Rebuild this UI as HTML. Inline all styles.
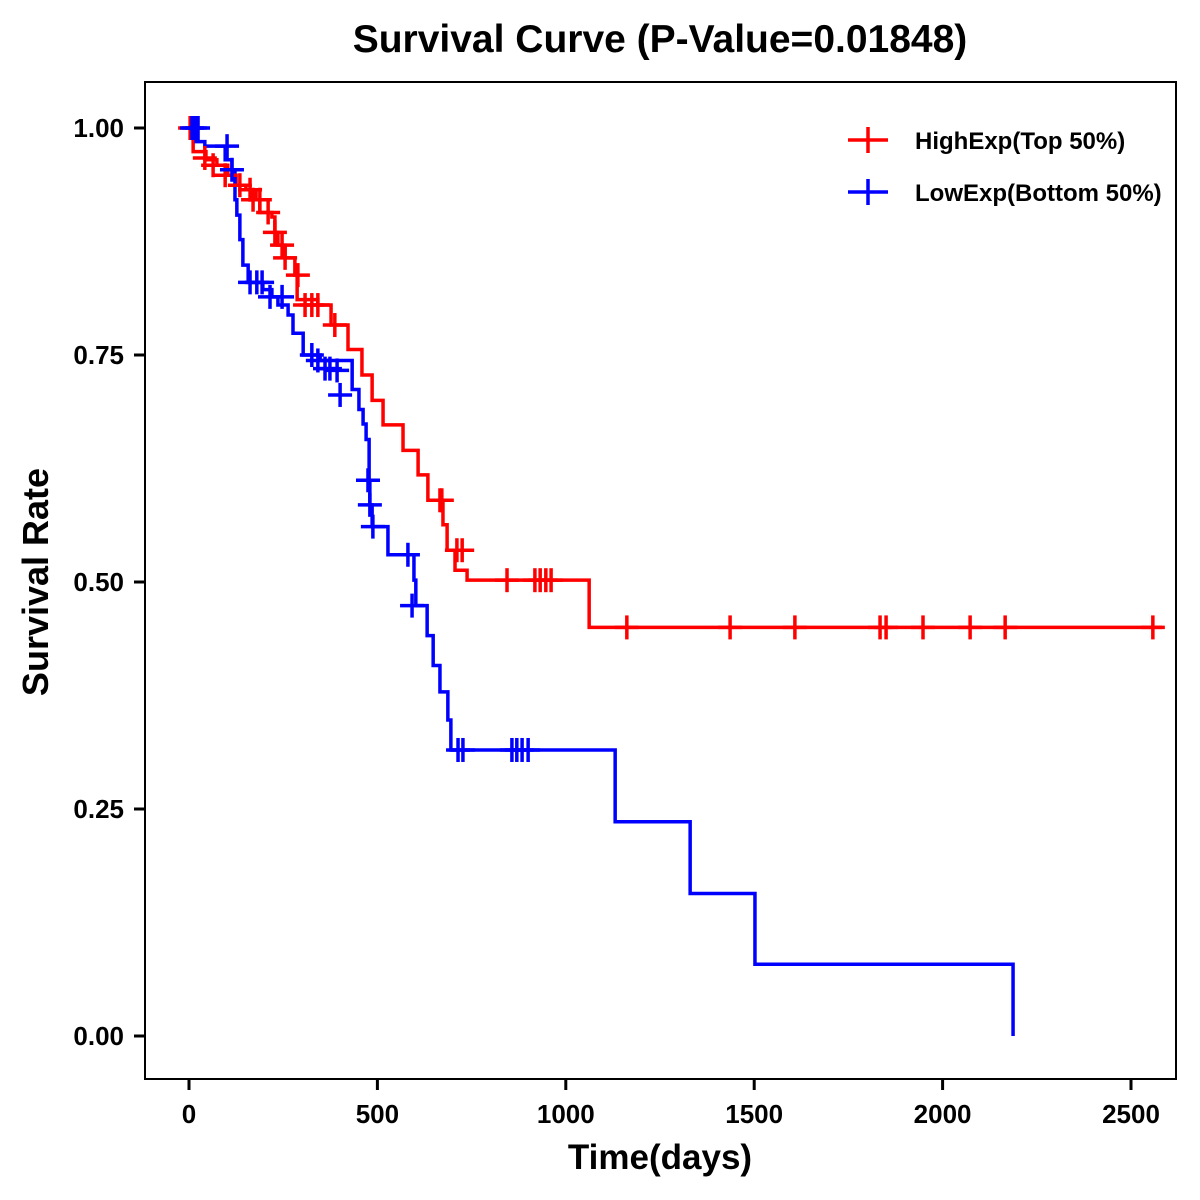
<!DOCTYPE html>
<html><head><meta charset="utf-8"><style>
html,body{margin:0;padding:0;background:#fff;}
svg{display:block;font-family:"Liberation Sans",Arial,sans-serif;}
</style></head><body>
<svg id="chart" width="1200" height="1200" viewBox="0 0 1200 1200">
<rect x="0" y="0" width="1200" height="1200" fill="#fff"/>
<text x="660" y="52" text-anchor="middle" font-size="39" font-weight="bold">Survival Curve (P-Value=0.01848)</text>
<rect x="145" y="82" width="1031" height="997" fill="none" stroke="#000" stroke-width="2"/>
<g id="axes"></g>
<g id="series"></g>
<text x="660" y="1169" text-anchor="middle" font-size="35" font-weight="bold">Time(days)</text>
<text transform="translate(48,582) rotate(-90)" text-anchor="middle" font-size="36" font-weight="bold">Survival Rate</text>
<g>
<g>
<line x1="848" y1="140" x2="888" y2="140" stroke="#f00" stroke-width="3.5"/><line x1="868" y1="127" x2="868" y2="153" stroke="#f00" stroke-width="3.5"/>
<text x="915" y="149" font-size="24" font-weight="bold">HighExp(Top 50%)</text></g>
<g>
<line x1="848" y1="192" x2="888" y2="192" stroke="#00f" stroke-width="3.5"/><line x1="868" y1="179" x2="868" y2="205" stroke="#00f" stroke-width="3.5"/>
<text x="915" y="201" font-size="24" font-weight="bold">LowExp(Bottom 50%)</text></g>
</g>
</svg>
<script>
const xTicks=[0,500,1000,1500,2000,2500];
const yTicks=[0,0.25,0.5,0.75,1.0];
const yTickLabels=["0.00","0.25","0.50","0.75","1.00"];
const highEventTimes=[11,45,74,103,125,151,178,188,220,228,236,255,281,287,342,377,422,459,486,515,568,608,634,674,685,706,738,1062];
const highEventSurv=[0.974,0.965,0.959,0.948,0.937,0.932,0.921,0.907,0.902,0.885,0.871,0.857,0.838,0.811,0.805,0.783,0.756,0.728,0.700,0.673,0.645,0.618,0.590,0.563,0.535,0.513,0.502,0.450];
const highEnd=2582;
const highCensorTimes=[3,42,64,96,135,162,170,188,210,228,247,255,289,308,326,342,387,666,671,711,725,844,918,932,947,961,1162,1436,1608,1834,1850,1948,2073,2166,2558];
const highCensorSurv=[1.0,0.967,0.959,0.948,0.937,0.932,0.921,0.921,0.907,0.885,0.871,0.857,0.838,0.805,0.805,0.805,0.783,0.590,0.590,0.535,0.535,0.502,0.502,0.502,0.502,0.502,0.450,0.450,0.450,0.450,0.450,0.450,0.450,0.450,0.450];
const lowEventTimes=[19,42,96,114,122,127,135,143,157,196,220,236,263,276,303,348,433,451,462,470,478,480,486,528,597,602,632,648,666,687,695,1131,1330,1502,2187];
const lowEventSurv=[0.985,0.980,0.965,0.954,0.921,0.904,0.877,0.849,0.830,0.822,0.814,0.805,0.794,0.774,0.750,0.744,0.712,0.690,0.674,0.657,0.612,0.585,0.561,0.530,0.502,0.474,0.441,0.408,0.379,0.348,0.315,0.236,0.157,0.079,0.0];
const lowCensorTimes=[8,16,24,101,114,162,180,194,215,247,326,342,361,374,393,401,475,480,488,581,592,714,727,857,870,884,900];
const lowCensorSurv=[1.0,1.0,1.0,0.980,0.954,0.830,0.830,0.830,0.814,0.814,0.750,0.744,0.735,0.735,0.733,0.706,0.612,0.585,0.561,0.530,0.474,0.315,0.315,0.315,0.315,0.315,0.315];

const NS='http://www.w3.org/2000/svg';
const xS=t=>189+t*0.3768;
const yS=s=>1036-s*908;
function mk(tag,attrs,parent){const e=document.createElementNS(NS,tag);for(const k in attrs)e.setAttribute(k,attrs[k]);parent.appendChild(e);return e;}
const axes=document.getElementById('axes');
xTicks.forEach(t=>{
  const l=mk('line',{x1:xS(t),x2:xS(t),y1:1079,y2:1090,stroke:'#000','stroke-width':3},axes);
  
  
  const tx=mk('text',{x:xS(t),y:1123,'text-anchor':'middle','font-size':26,'font-weight':'bold'},axes);
  tx.textContent=t;
  
  
});
yTicks.forEach((v,i)=>{
  const l=mk('line',{x1:134,x2:145,y1:yS(v),y2:yS(v),stroke:'#000','stroke-width':3},axes);
  
  
  const tx=mk('text',{x:124,y:yS(v)+9,'text-anchor':'end','font-size':26,'font-weight':'bold'},axes);
  tx.textContent=yTickLabels[i];
  
  
});
const series=document.getElementById('series');
function drawCurve(times,surv,end,color,name){
  let d='M'+xS(0)+','+yS(1);let prev=1;
  times.forEach((t,i)=>{d+=' L'+xS(t)+','+yS(prev)+' L'+xS(t)+','+yS(surv[i]);prev=surv[i];});
  if(end!=null)d+=' L'+xS(end)+','+yS(prev);
  const p=mk('path',{d:d,fill:'none',stroke:color,'stroke-width':3.5},series);
  
  
}
function drawCensors(times,surv,color,name){
  times.forEach((t,i)=>{
    const g=mk('g',{stroke:color,'stroke-width':3.5},series);
    
    
    mk('line',{x1:xS(t)-12,x2:xS(t)+12,y1:yS(surv[i]),y2:yS(surv[i])},g);
    mk('line',{x1:xS(t),x2:xS(t),y1:yS(surv[i])-12,y2:yS(surv[i])+12},g);
  });
}
drawCurve(highEventTimes,highEventSurv,highEnd,'#f00','high-exp-curve');
drawCurve(lowEventTimes,lowEventSurv,null,'#00f','low-exp-curve');
drawCensors(highCensorTimes,highCensorSurv,'#f00','high-censor-mark');
drawCensors(lowCensorTimes,lowCensorSurv,'#00f','low-censor-mark');
</script>
</body></html>
